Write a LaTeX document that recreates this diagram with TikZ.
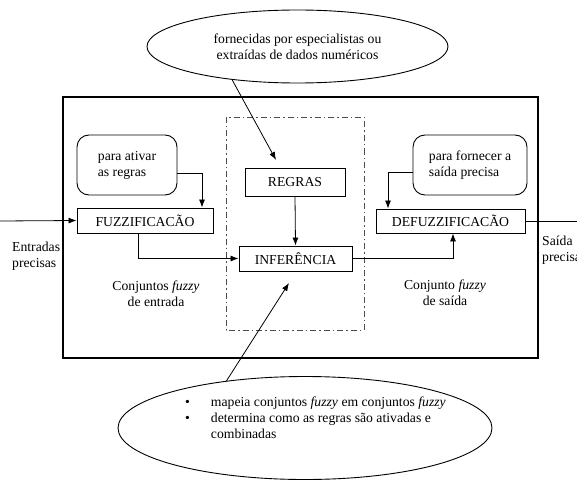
\documentclass[tikz,border=0pt]{standalone}
\usepackage{fontspec}
\setmainfont{Liberation Serif}
\usetikzlibrary{shapes.geometric,arrows.meta}

\tikzstyle{block}=[draw, line width=0.9pt, inner sep=0pt]
\tikzstyle{note}=[draw, line width=0.9pt, rounded corners=12pt, inner sep=0pt, align=left]
\tikzstyle{balloon}=[draw, ellipse, line width=0.9pt, inner sep=0pt, align=center]
\tikzstyle{txt}=[inner sep=0pt, align=center]
\tikzstyle{dep}=[-{Latex[length=8pt,width=6pt]}, line width=0.8pt]

\begin{document}
\begin{tikzpicture}[x=1pt, y=-1pt, font=\fontsize{13.7}{16}\selectfont]
      \useasboundingbox (0,0) rectangle (577,481);
      \clip (0,0) rectangle (577,481);
      % frame of the fuzzy system and the knowledge block
      \draw[line width=1.6pt] (63,97) rectangle (538,358);
      \draw[line width=0.8pt, black!70, dash pattern=on 6pt off 3pt on 1.5pt off 3pt] (226,117) rectangle (364,330);

      \node[balloon, minimum width=301pt, minimum height=73pt] (fontes) at (297.5,46.5) {fornecidas por especialistas ou\\extraídas de dados numéricos};
      \node[balloon, minimum width=374pt, minimum height=103pt] (mapeia) at (305,428) {};
      \node[txt, anchor=west, align=left] (funcoes) at (185,419) {%
        \begin{tabular}{@{}l@{\hspace{21pt}}l@{}}
          • & mapeia conjuntos \textit{fuzzy} em conjuntos \textit{fuzzy}\\
          • & determina como as regras são ativadas e\\
            & combinadas
        \end{tabular}};

      \node[note, minimum width=100pt, minimum height=60pt] (ativar) at (127,165) {para ativar\\as regras};
      \node[note, minimum width=114pt, minimum height=60pt] (fornecer) at (470,165) {para fornecer a\\saída precisa};

      \node[block, minimum width=100pt, minimum height=28pt] (regras) at (295,182) {REGRAS};
      \node[block, minimum width=113pt, minimum height=25pt] (inferencia) at (295.5,258.5) {INFERÊNCIA};
      \node[block, minimum width=136pt, minimum height=25pt] (fuzz) at (145,220.5) {FUZZIFICACÃO};
      \node[block, minimum width=149pt, minimum height=24pt] (defuzz) at (450.5,221) {DEFUZZIFICACÃO};

      \node[txt, anchor=west, align=left] (entradas) at (12,256) {Entradas\\precisas};
      \node[txt, anchor=west, align=left] (saida) at (542,250.5) {Saída\\precisa};
      \node[txt] (conjent) at (156,294) {Conjuntos \textit{fuzzy}\\de entrada};
      \node[txt] (conjsai) at (445,293) {Conjunto \textit{fuzzy}\\de saída};

      \coordinate (in) at (0,221);
      \coordinate (out) at (577,221);
      \coordinate (regrasptr) at (276,160);
      \coordinate (infptr) at (289,283);

      \draw[dep] (in) -- (fuzz.west);
      \draw[dep] ([yshift=-8pt]ativar.east) -| ([xshift=57pt]fuzz.north);
      \draw[dep] ([xshift=-7pt]fuzz.south) |- (inferencia.west);
      \draw[dep] (regras.south) -- (inferencia.north);
      \draw[dep] (inferencia.east) -| ([xshift=2.5pt]defuzz.south);
      \draw[dep] ([yshift=-7pt]fornecer.west) -| ([xshift=-62.5pt]defuzz.north);
      \draw[line width=0.8pt] (defuzz.east) -- (out);
      \draw[dep] (fontes.207) -- (regrasptr);
      \draw[dep] (mapeia.149) -- (infptr);
    \end{tikzpicture}
\end{document}
